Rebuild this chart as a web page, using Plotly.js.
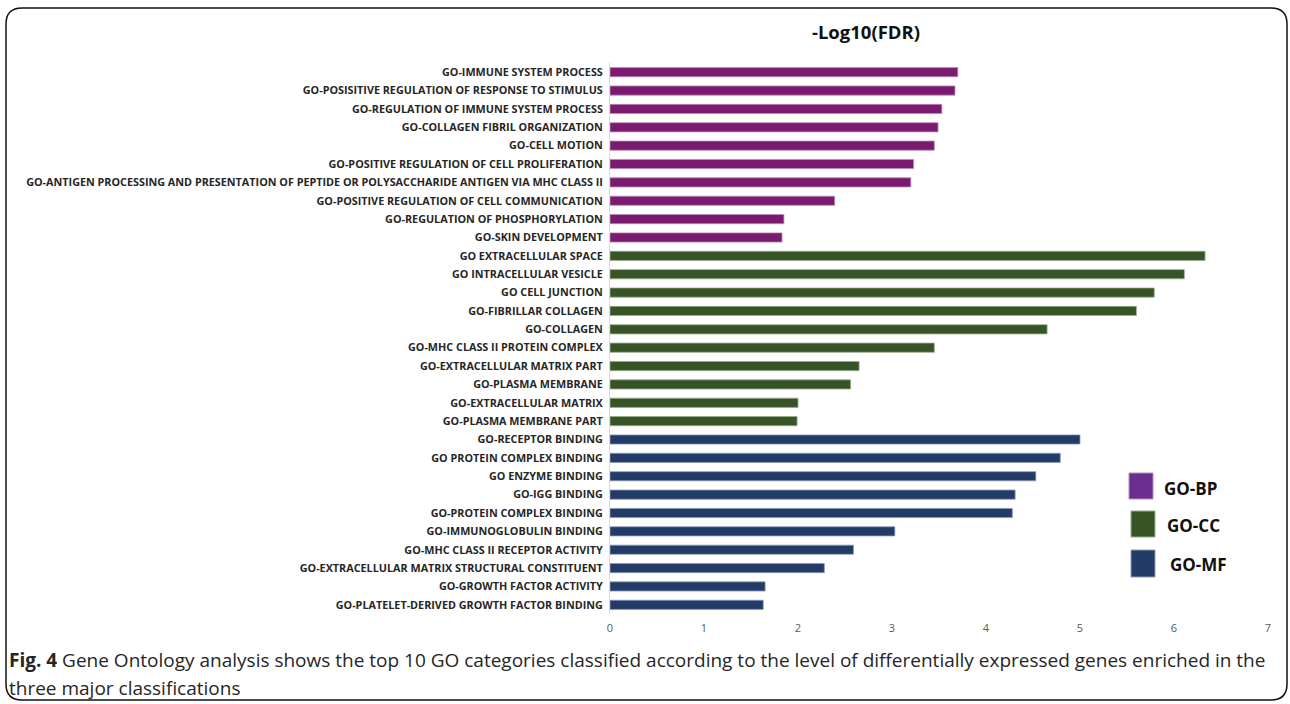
<!DOCTYPE html>
<html>
<head>
<meta charset="utf-8">
<script src="https://cdn.plot.ly/plotly-3.0.1.min.js"></script>
<style>
html,body{margin:0;padding:0;background:#fff;}
#chart{width:1290px;height:704px;}
</style>
</head>
<body>
<div id="chart"></div>
<script>
// ---- Data ----
const bpTerms = [
  "GO-IMMUNE SYSTEM PROCESS",
  "GO-POSISITIVE REGULATION OF RESPONSE TO STIMULUS",
  "GO-REGULATION OF IMMUNE SYSTEM PROCESS",
  "GO-COLLAGEN FIBRIL ORGANIZATION",
  "GO-CELL MOTION",
  "GO-POSITIVE REGULATION OF CELL PROLIFERATION",
  "GO-ANTIGEN PROCESSING AND PRESENTATION OF PEPTIDE OR POLYSACCHARIDE ANTIGEN VIA MHC CLASS II",
  "GO-POSITIVE REGULATION OF CELL COMMUNICATION",
  "GO-REGULATION OF PHOSPHORYLATION",
  "GO-SKIN DEVELOPMENT"
];
const bpValues = [3.70, 3.67, 3.53, 3.49, 3.45, 3.23, 3.20, 2.39, 1.85, 1.83];

const ccTerms = [
  "GO EXTRACELLULAR SPACE",
  "GO INTRACELLULAR VESICLE",
  "GO CELL JUNCTION",
  "GO-FIBRILLAR COLLAGEN",
  "GO-COLLAGEN",
  "GO-MHC CLASS II PROTEIN COMPLEX",
  "GO-EXTRACELLULAR MATRIX PART",
  "GO-PLASMA MEMBRANE",
  "GO-EXTRACELLULAR MATRIX",
  "GO-PLASMA MEMBRANE PART"
];
const ccValues = [6.33, 6.11, 5.79, 5.60, 4.65, 3.45, 2.65, 2.56, 2.00, 1.99];

const mfTerms = [
  "GO-RECEPTOR BINDING",
  "GO PROTEIN COMPLEX BINDING",
  "GO ENZYME BINDING",
  "GO-IGG BINDING",
  "GO-PROTEIN COMPLEX BINDING",
  "GO-IMMUNOGLOBULIN BINDING",
  "GO-MHC CLASS II RECEPTOR ACTIVITY",
  "GO-EXTRACELLULAR MATRIX STRUCTURAL CONSTITUENT",
  "GO-GROWTH FACTOR ACTIVITY",
  "GO-PLATELET-DERIVED GROWTH FACTOR BINDING"
];
const mfValues = [5.00, 4.79, 4.53, 4.31, 4.28, 3.03, 2.59, 2.28, 1.65, 1.63];

const groupNames = ["GO-BP", "GO-CC", "GO-MF"];
const xTicks = [0, 1, 2, 3, 4, 5, 6, 7];
const axisTitle = "-Log10(FDR)";
const captionBold = "Fig. 4";
const captionLine1 = " Gene Ontology analysis shows the top 10 GO categories classified according to the level of differentially expressed genes enriched in the";
const captionLine2 = "three major classifications";

// ---- Styles ----
const barColors = ["#7b1b6f", "#375427", "#233b68"];
const barEdges = ["#b98db5", "#9aab90", "#8f9ab5"];
const legendColors = ["#6b2d8f", "#365426", "#223b67"];

const W = 1290, H = 704;
const M = {l: 610, r: 22, t: 63, b: 90};
const PW = W - M.l - M.r, PH = H - M.t - M.b;
const px = x => (x - M.l) / PW;
const py = y => (H - M.b - y) / PH;

const allTerms = bpTerms.concat(ccTerms, mfTerms);
const groups = [[bpTerms, bpValues], [ccTerms, ccValues], [mfTerms, mfValues]];

const traces = groups.map((g, i) => ({
  type: "bar",
  orientation: "h",
  y: g[0],
  x: g[1],
  name: groupNames[i],
  width: 0.5,
  marker: {color: barColors[i], line: {color: barEdges[i], width: 0.8}},
  showlegend: false,
  hoverinfo: "x+y"
}));

// rounded border path in paper coords
function roundRect(x0, y0, x1, y1, r) {
  const P = (x, y) => px(x).toFixed(5) + "," + py(y).toFixed(5);
  return "M" + P(x0 + r, y0) + " L" + P(x1 - r, y0) + " Q" + P(x1, y0) + " " + P(x1, y0 + r) +
    " L" + P(x1, y1 - r) + " Q" + P(x1, y1) + " " + P(x1 - r, y1) +
    " L" + P(x0 + r, y1) + " Q" + P(x0, y1) + " " + P(x0, y1 - r) +
    " L" + P(x0, y0 + r) + " Q" + P(x0, y0) + " " + P(x0 + r, y0) + " Z";
}

const legendBoxes = [
  {x0: 1129, x1: 1153, y0: 473, y1: 499, tx: 1162, ty: 488},
  {x0: 1131, x1: 1155, y0: 511, y1: 537, tx: 1165, ty: 525},
  {x0: 1131, x1: 1155, y0: 550, y1: 577, tx: 1168, ty: 564}
];

const shapes = [{
  type: "path", xref: "paper", yref: "paper",
  path: roundRect(6, 8, 1287, 700, 16),
  line: {color: "#111", width: 1.5}, fillcolor: "rgba(0,0,0,0)", layer: "below"
}];
const annotations = [];
legendBoxes.forEach((b, i) => {
  shapes.push({
    type: "rect", xref: "paper", yref: "paper",
    x0: px(b.x0), x1: px(b.x1), y0: py(b.y1), y1: py(b.y0),
    fillcolor: legendColors[i], line: {color: barEdges[i], width: 1}
  });
  annotations.push({
    xref: "paper", yref: "paper", x: px(b.tx), y: py(b.ty),
    xanchor: "left", yanchor: "middle", showarrow: false,
    text: "<b>" + groupNames[i] + "</b>",
    font: {family: "Open Sans, sans-serif", size: 17, color: "#111"}
  });
});
const capFont = {family: "Open Sans, sans-serif", size: 19, color: "#262626"};
annotations.push({
  xref: "paper", yref: "paper", x: px(7), y: py(659.5),
  xanchor: "left", yanchor: "middle", align: "left", showarrow: false,
  text: "<b>" + captionBold + "</b>" + captionLine1, font: capFont
});
annotations.push({
  xref: "paper", yref: "paper", x: px(7), y: py(688),
  xanchor: "left", yanchor: "middle", align: "left", showarrow: false,
  text: captionLine2, font: capFont
});

const layout = {
  width: W, height: H,
  margin: M,
  paper_bgcolor: "#fff", plot_bgcolor: "#fff",
  title: {
    text: "<b>" + axisTitle + "</b>",
    x: px(866), xref: "paper", xanchor: "center",
    y: 1 - 33 / H, yref: "container", yanchor: "middle",
    font: {family: "Open Sans, sans-serif", size: 18.5, color: "#111"}
  },
  xaxis: {
    range: [0, 7], tickvals: xTicks, ticktext: xTicks.map(String),
    showgrid: false, zeroline: false, showline: false, ticks: "",
    ticklabelstandoff: 6,
    tickfont: {family: "Open Sans, sans-serif", size: 11, color: "#595959"},
    fixedrange: true
  },
  yaxis: {
    type: "category", categoryorder: "array", categoryarray: allTerms,
    range: [allTerms.length - 0.5, -0.5],
    showgrid: false, zeroline: false, showline: true, linecolor: "#d9d9d9", linewidth: 1,
    ticks: "", ticklabelstandoff: 4,
    tickfont: {family: "Open Sans, sans-serif", size: 10.8, color: "#262626", weight: "bold"},
    fixedrange: true
  },
  bargap: 0.5,
  shapes: shapes,
  annotations: annotations,
  showlegend: false
};

Plotly.newPlot("chart", traces, layout, {displayModeBar: false, staticPlot: true});
</script>
</body>
</html>
